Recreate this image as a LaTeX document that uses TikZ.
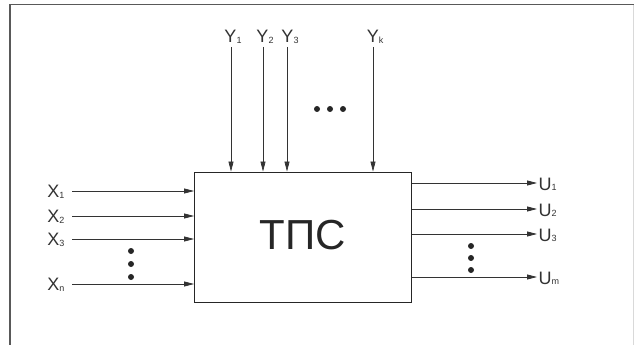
\documentclass[tikz,border=0pt]{standalone}
\usepackage{fontspec}
\setmainfont{Liberation Sans}
\usetikzlibrary{arrows.meta}
\newcommand{\idx}[1]{\raisebox{-.5pt}{\fontsize{9}{9}\selectfont #1}}

\begin{document}
\begin{tikzpicture}[x=1pt,y=-1pt,
    lbl/.style={font=\fontsize{18}{18}\selectfont,text=black!80,inner sep=1.5pt},
    sig/.style={-{Triangle[length=10pt,width=5pt]},line width=.75pt,draw=black!80},
    sysbox/.style={rectangle,draw=black!85,line width=.9pt,minimum width=217pt,minimum height=130pt,font=\fontsize{42}{42}\selectfont,text=black!85}]
    \useasboundingbox (0,0) rectangle (634,345);
    % frame
    \draw[black!65,line width=1.3pt] (10,345) -- (10,4.5) -- (634,4.5);
    \draw[black!15,line width=.6pt] (633,5) -- (633,345);
    % system
    \node[sysbox] (tps) at (303,237) {\raisebox{4.5pt}{ТПС}};
    % disturbances
    \coordinate (yc1) at (231,47);
    \coordinate (yc2) at (263,47);
    \coordinate (yc3) at (287,47);
    \coordinate (yck) at (373,47);
    \node[lbl,anchor=base] (y1) at (233,43) {Y\idx{1}};
    \node[lbl,anchor=base] (y2) at (265,43) {Y\idx{2}};
    \node[lbl,anchor=base] (y3) at (290,43) {Y\idx{3}};
    \node[lbl,anchor=base] (yk) at (375,43) {Y\idx{k}};
    \draw[sig] (yc1) -- (yc1 |- tps.north);
    \draw[sig] (yc2) -- (yc2 |- tps.north);
    \draw[sig] (yc3) -- (yc3 |- tps.north);
    \draw[sig] (yck) -- (yck |- tps.north);
    % inputs
    \coordinate (xc1) at (72,191);
    \coordinate (xc2) at (72,216);
    \coordinate (xc3) at (72,239);
    \coordinate (xcn) at (72,284);
    \node[lbl,anchor=base east] (x1) at ([xshift=-6pt,yshift=-6.5pt]xc1) {X\idx{1}};
    \node[lbl,anchor=base east] (x2) at ([xshift=-6pt,yshift=-6.5pt]xc2) {X\idx{2}};
    \node[lbl,anchor=base east] (x3) at ([xshift=-6pt,yshift=-6.5pt]xc3) {X\idx{3}};
    \node[lbl,anchor=base east] (xn) at ([xshift=-6pt,yshift=-6.5pt]xcn) {X\idx{n}};
    \draw[sig] (xc1) -- (xc1 -| tps.west);
    \draw[sig] (xc2) -- (xc2 -| tps.west);
    \draw[sig] (xc3) -- (xc3 -| tps.west);
    \draw[sig] (xcn) -- (xcn -| tps.west);
    % outputs
    \coordinate (uc1) at (537,183);
    \coordinate (uc2) at (537,209);
    \coordinate (uc3) at (537,234);
    \coordinate (ucm) at (537,277);
    \draw[sig] (uc1 -| tps.east) -- (uc1);
    \draw[sig] (uc2 -| tps.east) -- (uc2);
    \draw[sig] (uc3 -| tps.east) -- (uc3);
    \draw[sig] (ucm -| tps.east) -- (ucm);
    \node[lbl,anchor=base west] (u1) at ([yshift=-7pt]uc1) {U\idx{1}};
    \node[lbl,anchor=base west] (u2) at ([yshift=-7pt]uc2) {U\idx{2}};
    \node[lbl,anchor=base west] (u3) at ([yshift=-7pt]uc3) {U\idx{3}};
    \node[lbl,anchor=base west] (um) at ([yshift=-7pt]ucm) {U\idx{m}};
    % dots
    \fill[black!85] (317,109) circle (3pt) (330,109) circle (3pt) (343,109) circle (3pt);
    \fill[black!85] (131,251) circle (3pt) (131,264) circle (3pt) (131,277) circle (3pt);
    \fill[black!85] (471,246) circle (3pt) (471,258) circle (3pt) (471,270) circle (3pt);
\end{tikzpicture}
\end{document}
